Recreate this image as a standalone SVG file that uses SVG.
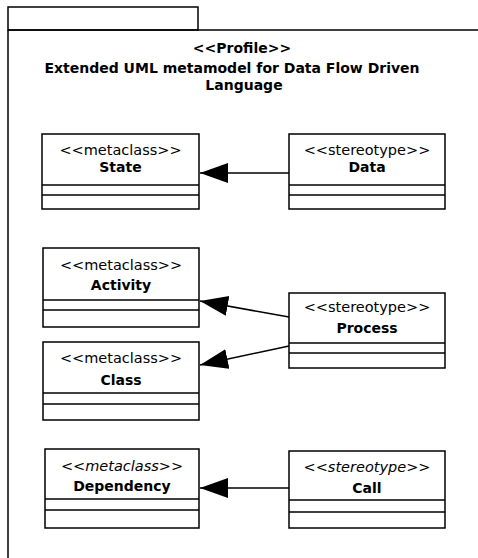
<svg xmlns="http://www.w3.org/2000/svg" width="478" height="558" viewBox="0 0 478 558">
<defs>
<style>
.box{fill:#fff;stroke:#000;stroke-width:1.5}
.div{stroke:#000;stroke-width:1.5}
.st{font-family:"DejaVu Sans",sans-serif;font-size:14.5px;text-anchor:middle;fill:#000}
.nm{font-family:"DejaVu Sans",sans-serif;font-size:14px;font-weight:bold;text-anchor:middle;fill:#000}
.it{font-style:italic}
.ttl{font-family:"DejaVu Sans",sans-serif;font-size:14px;font-weight:bold;fill:#000}
.conn{stroke:#000;stroke-width:1.6;fill:none;marker-end:url(#tri)}
</style>
<marker id="tri" markerUnits="userSpaceOnUse" markerWidth="30" markerHeight="22" refX="28" refY="10" orient="auto">
<path d="M0,0 L28,10 L0,20 z" fill="#000"/>
</marker>
</defs>
<rect width="478" height="558" fill="#fff"/>
<g id="package">
<rect x="8" y="7" width="190" height="23" fill="#fff" stroke="#000" stroke-width="1.5"/>
<path d="M8,30 H480 M8,30 V560" stroke="#000" stroke-width="1.5" fill="none"/>
<text class="ttl" x="242" y="53" text-anchor="middle">&lt;&lt;Profile&gt;&gt;</text>
<text class="ttl" x="232" y="73" text-anchor="middle">Extended UML metamodel for Data Flow Driven</text>
<text class="ttl" x="244" y="90" text-anchor="middle">Language</text>
</g>
<g id="state">
<rect class="box" x="42" y="134" width="157" height="75"/>
<path class="div" d="M42,185 H199 M42,195 H199"/>
<text class="st" x="120.5" y="155">&lt;&lt;metaclass&gt;&gt;</text>
<text class="nm" x="120.5" y="172">State</text>
</g>
<g id="data">
<rect class="box" x="289" y="134" width="156" height="75"/>
<path class="div" d="M289,185 H445 M289,195 H445"/>
<text class="st" x="367" y="155">&lt;&lt;stereotype&gt;&gt;</text>
<text class="nm" x="367" y="172">Data</text>
</g>
<g id="activity">
<rect class="box" x="43" y="248" width="156" height="79"/>
<path class="div" d="M43,300 H199 M43,310 H199"/>
<text class="st" x="121" y="270">&lt;&lt;metaclass&gt;&gt;</text>
<text class="nm" x="121" y="290">Activity</text>
</g>
<g id="process">
<rect class="box" x="289" y="293" width="156" height="75"/>
<path class="div" d="M289,343 H445 M289,353 H445"/>
<text class="st" x="367" y="312">&lt;&lt;stereotype&gt;&gt;</text>
<text class="nm" x="367" y="333">Process</text>
</g>
<g id="class">
<rect class="box" x="43" y="342" width="156" height="78"/>
<path class="div" d="M43,393 H199 M43,404 H199"/>
<text class="st" x="121" y="363">&lt;&lt;metaclass&gt;&gt;</text>
<text class="nm" x="121" y="385">Class</text>
</g>
<g id="dependency">
<rect class="box" x="45" y="449" width="154" height="79"/>
<path class="div" d="M45,499 H199 M45,510 H199"/>
<text class="st it" x="122" y="471">&lt;&lt;metaclass&gt;&gt;</text>
<text class="nm" x="122" y="491">Dependency</text>
</g>
<g id="call">
<rect class="box" x="289" y="451" width="156" height="77"/>
<path class="div" d="M289,500 H445 M289,512 H445"/>
<text class="st it" x="367" y="472">&lt;&lt;stereotype&gt;&gt;</text>
<text class="nm" x="367" y="493">Call</text>
</g>
<g id="connectors">
<line class="conn" x1="289" y1="173" x2="200" y2="173"/>
<line class="conn" x1="289" y1="317" x2="200" y2="301"/>
<line class="conn" x1="289" y1="346" x2="200" y2="365"/>
<line class="conn" x1="289" y1="488" x2="200" y2="488"/>
</g>
</svg>
